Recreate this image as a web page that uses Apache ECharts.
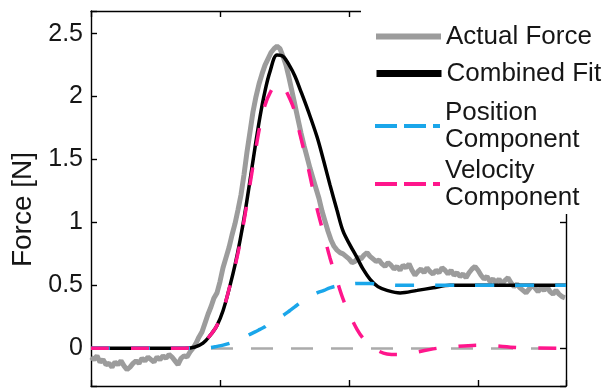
<!DOCTYPE html>
<html>
<head>
<meta charset="utf-8">
<script src="https://cdn.jsdelivr.net/npm/echarts@6/dist/echarts.min.js"></script>
<style>
  html, body { margin: 0; padding: 0; background: #ffffff; }
  #chart { width: 607px; height: 388px; }
</style>
</head>
<body>
<div id="chart"></div>
<script>
// Time base of the model curves (s)
const fitTime = [0, 0.229, 0.364, 0.403, 0.434, 0.461, 0.488, 0.512, 0.539, 0.558,
  0.578, 0.597, 0.616, 0.636, 0.655, 0.674, 0.694, 0.721, 0.744, 0.771,
  0.791, 0.81, 0.841, 0.876, 0.903, 0.926, 0.953, 0.977, 1.004, 1.031,
  1.054, 1.081, 1.112, 1.147, 1.198, 1.264, 1.326, 1.391, 1.508, 1.663, 1.841];

// Combined model fit (N)
const combinedFit = [0, 0, 0, 0.01, 0.04, 0.1, 0.18, 0.3, 0.5, 0.66,
  0.86, 1.08, 1.33, 1.6, 1.84, 2.04, 2.2, 2.33, 2.32, 2.24,
  2.16, 2.06, 1.89, 1.68, 1.48, 1.3, 1.1, 0.93, 0.82, 0.72,
  0.63, 0.55, 0.49, 0.46, 0.44, 0.46, 0.48, 0.5, 0.5, 0.5, 0.5];

// Position-dependent component (N)
const positionComponent = [0, 0, 0, 0, 0, 0.005, 0.015, 0.025, 0.04, 0.055,
  0.07, 0.09, 0.11, 0.13, 0.15, 0.17, 0.2, 0.23, 0.26, 0.3,
  0.33, 0.36, 0.4, 0.44, 0.46, 0.48, 0.495, 0.505, 0.51, 0.515,
  0.515, 0.515, 0.51, 0.505, 0.5, 0.5, 0.5, 0.5, 0.5, 0.5, 0.5];

// Velocity-dependent component (N)
const velocityComponent = [0, 0, 0, 0.01, 0.04, 0.1, 0.18, 0.3, 0.5, 0.65,
  0.84, 1.06, 1.3, 1.55, 1.77, 1.93, 2.03, 2.1, 2.08, 1.98,
  1.87, 1.7, 1.44, 1.11, 0.9, 0.72, 0.54, 0.39, 0.26, 0.15,
  0.08, 0.02, -0.02, -0.045, -0.05, -0.03, -0.005, 0.01, 0.025, 0.005, 0];

// Measured force, sampled every forceStep seconds from t = 0 (N)
const forceStep = 0.011628;
const actualForce = [
  -0.07, -0.09, -0.06, -0.11, -0.09, -0.13, -0.12, -0.15, -0.11, -0.13,
  -0.1, -0.14, -0.17, -0.15, -0.12, -0.1, -0.12, -0.08, -0.1, -0.07,
  -0.09, -0.11, -0.07, -0.09, -0.06, -0.08, -0.05, -0.07, -0.1, -0.13,
  -0.08, -0.06, -0.07, -0.03, 0.0, 0.04, 0.09, 0.13, 0.2, 0.27,
  0.33, 0.4, 0.44, 0.53, 0.64, 0.72, 0.8, 0.9, 0.99, 1.1,
  1.22, 1.38, 1.56, 1.72, 1.88, 2.0, 2.1, 2.18, 2.25, 2.3,
  2.35, 2.38, 2.4, 2.38, 2.32, 2.25, 2.15, 2.04, 1.93, 1.82,
  1.71, 1.61, 1.52, 1.43, 1.35, 1.27, 1.19, 1.09, 1.01, 0.93,
  0.86, 0.81, 0.78, 0.76, 0.75, 0.73, 0.71, 0.68, 0.69, 0.72,
  0.71, 0.74, 0.76, 0.73, 0.71, 0.69, 0.7, 0.67, 0.65, 0.68,
  0.66, 0.63, 0.65, 0.62, 0.66, 0.64, 0.67, 0.62, 0.58, 0.61,
  0.63, 0.6, 0.64, 0.61, 0.59, 0.62, 0.6, 0.64, 0.62, 0.59,
  0.62, 0.58, 0.6, 0.57, 0.59, 0.56, 0.6, 0.63, 0.65, 0.62,
  0.58, 0.55, 0.57, 0.53, 0.55, 0.52, 0.55, 0.51, 0.54, 0.56,
  0.52, 0.49, 0.51, 0.48, 0.46, 0.44, 0.47, 0.5, 0.48, 0.45,
  0.48, 0.46, 0.49, 0.45, 0.43, 0.46, 0.43, 0.41, 0.4
];

// Axis settings
const xRange = [0, 1.841];
const xTickStep = 0.5;
const yRange = [-0.3, 2.68];
const yTickStep = 0.5;
const yAxisTitle = 'Force [N]';

const seriesNames = ['Actual Force', 'Combined Fit', 'Position Component', 'Velocity Component'];
const colors = { actual: '#9c9c9c', fit: '#000000', position: '#1aa6ea', velocity: '#ff168c', zero: '#ababab' };

const FONT = "'Liberation Sans', Arial, Helvetica, sans-serif";
const TEXT_COLOR = '#161616';

const pairs = (xs, ys) => ys.map((y, i) => [xs[i], y]);
const forceData = actualForce.map((v, i) => [i * forceStep, v]);

const isMultiple = (v, step) => Math.abs(Math.round(v / step) * step - v) < 1e-6;
const yLabel = v => {
  if (!isMultiple(v, yTickStep)) return '';
  const r = Math.round(v / yTickStep) * yTickStep;
  return Math.abs(r) < 1e-9 ? '0' : String(r);
};

const axisLine = { show: true, onZero: false, lineStyle: { color: '#000', width: 1.4 } };
const axisTick = { show: true, inside: true, length: 6, lineStyle: { color: '#000', width: 1.4 } };

function legendEntry(name, top, icon, twoLines) {
  return {
    data: [name],
    orient: 'vertical',
    left: 373,
    top: top,
    padding: 0,
    itemWidth: 65,
    itemHeight: 14,
    itemGap: 0,
    selectedMode: false,
    lineStyle: icon,
    itemStyle: { opacity: 0, borderWidth: 0 },
    formatter: twoLines ? n => n.replace(' ', '\n') : n => n,
    textStyle: { fontFamily: FONT, fontSize: 26, color: TEXT_COLOR, lineHeight: 27 }
  };
}

const chart = echarts.init(document.getElementById('chart'), null, { renderer: 'canvas' });

chart.setOption({
  animation: false,
  backgroundColor: '#ffffff',
  grid: { left: 91, right: 41, top: 11, bottom: 2, containLabel: false },
  xAxis: [
    {
      type: 'value', position: 'bottom', min: xRange[0], max: xRange[1], interval: xTickStep,
      axisLine, axisTick, axisLabel: { show: false }, splitLine: { show: false }
    },
    {
      type: 'value', position: 'top', min: xRange[0], max: xRange[1], interval: xTickStep,
      axisLine, axisTick, axisLabel: { show: false }, splitLine: { show: false }
    }
  ],
  yAxis: [
    {
      type: 'value', position: 'left', min: yRange[0], max: yRange[1], splitNumber: 6,
      axisLine, axisTick, splitLine: { show: false },
      axisLabel: { formatter: yLabel, margin: 8, fontFamily: FONT, fontSize: 25, color: TEXT_COLOR },
      name: yAxisTitle, nameLocation: 'middle', nameRotate: 90, nameGap: 53,
      nameTextStyle: { fontFamily: FONT, fontSize: 28, color: TEXT_COLOR, padding: [0, 22, 0, 0] }
    },
    {
      type: 'value', position: 'right', min: yRange[0], max: yRange[1], splitNumber: 6,
      axisLine, axisTick, axisLabel: { show: false }, splitLine: { show: false }
    }
  ],
  graphic: [
    {
      type: 'rect', left: 361, top: 0, z: 3,
      shape: { width: 246, height: 214 },
      style: { fill: '#ffffff' }
    }
  ],
  legend: [
    legendEntry(seriesNames[0], 23, { color: colors.actual, width: 6, type: 'solid' }, false),
    legendEntry(seriesNames[1], 60, { color: colors.fit, width: 7, type: 'solid' }, false),
    legendEntry(seriesNames[2], 99, { color: colors.position, width: 4, type: [22, 7] }, true),
    legendEntry(seriesNames[3], 157, { color: colors.velocity, width: 4, type: [22, 7] }, true)
  ],
  series: [
    {
      name: seriesNames[0], type: 'line', data: forceData, symbol: 'none', z: 2,
      lineStyle: { color: colors.actual, width: 5 }, itemStyle: { color: colors.actual },
      markLine: {
        silent: true, symbol: 'none', z: 1, animation: false,
        label: { show: false },
        lineStyle: { color: colors.zero, width: 2.5, type: [22, 18] },
        data: [{ yAxis: 0 }]
      }
    },
    {
      name: seriesNames[1], type: 'line', data: pairs(fitTime, combinedFit), symbol: 'none', smooth: 0.35, z: 2,
      lineStyle: { color: colors.fit, width: 3.5 }, itemStyle: { color: colors.fit }
    },
    {
      name: seriesNames[2], type: 'line', data: pairs(fitTime, positionComponent), symbol: 'none', smooth: 0.35, z: 2,
      lineStyle: { color: colors.position, width: 3.5, type: [19, 21] }, itemStyle: { color: colors.position }
    },
    {
      name: seriesNames[3], type: 'line', data: pairs(fitTime, velocityComponent), symbol: 'none', smooth: 0.35, z: 2,
      lineStyle: { color: colors.velocity, width: 3.5, type: [18, 22] }, itemStyle: { color: colors.velocity }
    }
  ]
});
</script>
</body>
</html>
